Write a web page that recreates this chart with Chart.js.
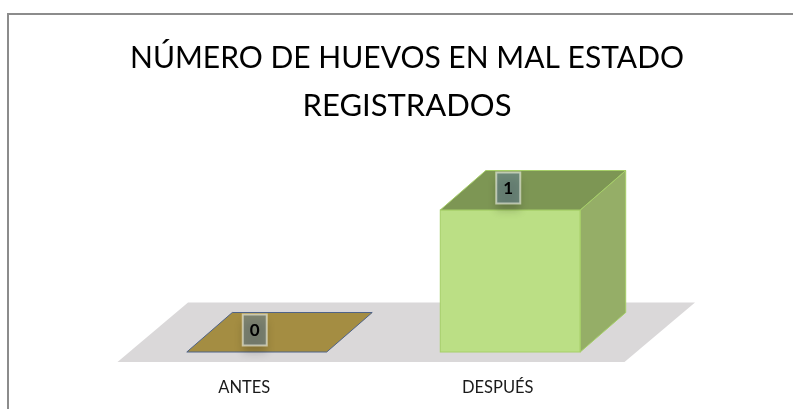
<!DOCTYPE html>
<html>
<head>
<meta charset="utf-8">
<script src="https://cdn.jsdelivr.net/npm/chart.js@4.4.1/dist/chart.umd.min.js"></script>
<style>
  html, body { margin: 0; padding: 0; background: #ffffff; }
  #wrap { position: relative; width: 793px; height: 409px; overflow: hidden; }
  #frame { position: absolute; left: 7px; top: 13px; width: 900px; height: 500px;
           border-top: 2px solid #8c8c8c; border-left: 2px solid #8c8c8c; z-index: 0; }
  #c { position: absolute; left: 0; top: 0; z-index: 1; }
</style>
</head>
<body>
<div id="wrap">
  <div id="frame"></div>
  <canvas id="c" width="793" height="409"></canvas>
</div>
<script>
// ---- data ----
const categories = ['ANTES', 'DESPUÉS'];
const values = [0, 1];
const titleLines = ['NÚMERO DE HUEVOS EN MAL ESTADO', 'REGISTRADOS'];
const frontColors = ['#a48d42', '#bbdf85'];
const topColors = ['#a48d42', '#7d9654'];
const sideColors = ['#8a7636', '#95ae67'];
const edgeColors = ['#4f6388', '#a6cf68'];

// ---- font sizing ----
const FONT = 'Lato';
function fitSize(text, family, target) {
  const ctx = document.createElement('canvas').getContext('2d');
  ctx.font = '100px ' + family;
  return Math.round(2 * 100 * target / ctx.measureText(text).width) / 2;
}
const titleSize = fitSize(titleLines[0], FONT, 572);
const axisSize = 16.5;

const DEPTH = { x: 45.5, y: -39.5 };
const GAP = { x: 12.5, y: 10 };

const threeD = {
  id: 'threeD',
  beforeDatasetsDraw(chart) {
    const { ctx, chartArea } = chart;
    const base = chart.scales.y.getPixelForValue(0);
    const l = chartArea.left, r = chartArea.right;
    ctx.save();
    ctx.fillStyle = '#dad8d9';
    ctx.beginPath();
    ctx.moveTo(l - GAP.x, base + GAP.y);
    ctx.lineTo(r - GAP.x, base + GAP.y);
    ctx.lineTo(r + DEPTH.x + GAP.x, base + DEPTH.y - GAP.y);
    ctx.lineTo(l + DEPTH.x + GAP.x, base + DEPTH.y - GAP.y);
    ctx.closePath();
    ctx.fill();
    ctx.restore();
  },
  afterDatasetsDraw(chart) {
    const { ctx } = chart;
    const meta = chart.getDatasetMeta(0);
    meta.data.forEach((bar, i) => {
      const p = bar.getProps(['x', 'y', 'base', 'width'], true);
      const x0 = p.x - p.width / 2, x1 = p.x + p.width / 2;
      const yt = Math.min(p.y, p.base), yb = Math.max(p.y, p.base);
      ctx.save();
      ctx.lineWidth = 1;
      ctx.strokeStyle = edgeColors[i];
      // side face
      if (yb - yt > 0.5) {
        ctx.fillStyle = sideColors[i];
        ctx.beginPath();
        ctx.moveTo(x1, yt);
        ctx.lineTo(x1 + DEPTH.x, yt + DEPTH.y);
        ctx.lineTo(x1 + DEPTH.x, yb + DEPTH.y);
        ctx.lineTo(x1, yb);
        ctx.closePath();
        ctx.fill();
        ctx.stroke();
        ctx.strokeRect(x0, yt, x1 - x0, yb - yt);
      }
      // top face
      ctx.fillStyle = topColors[i];
      ctx.beginPath();
      ctx.moveTo(x0, yt);
      ctx.lineTo(x1, yt);
      ctx.lineTo(x1 + DEPTH.x, yt + DEPTH.y);
      ctx.lineTo(x0 + DEPTH.x, yt + DEPTH.y);
      ctx.closePath();
      ctx.fill();
      ctx.stroke();
      ctx.restore();

      // data label
      const cx = p.x - 2, cy = yt - 22;
      const bw = 24, bh = 31;
      ctx.save();
      ctx.shadowColor = 'rgba(0,0,0,0.35)';
      ctx.shadowBlur = 8;
      ctx.shadowOffsetY = 7;
      ctx.fillStyle = 'rgba(98,126,150,0.55)';
      ctx.fillRect(cx - bw / 2, cy - bh / 2, bw, bh);
      ctx.restore();
      ctx.save();
      ctx.strokeStyle = 'rgba(255,255,240,0.55)';
      ctx.lineWidth = 2;
      ctx.strokeRect(cx - bw / 2, cy - bh / 2, bw, bh);
      ctx.fillStyle = '#000000';
      ctx.font = 'bold 17px ' + FONT;
      ctx.textAlign = 'center';
      ctx.textBaseline = 'middle';
      ctx.fillText(String(values[i]), cx, cy + 1);
      ctx.restore();
    });
  }
};

new Chart(document.getElementById('c'), {
  type: 'bar',
  data: {
    labels: categories,
    datasets: [{
      data: values,
      backgroundColor: frontColors,
      borderWidth: 0,
      categoryPercentage: 1,
      barPercentage: 0.552
    }]
  },
  options: {
    responsive: false,
    animation: false,
    events: [],
    layout: { padding: { left: 130, right: 109, top: 0, bottom: 0 } },
    plugins: {
      legend: { display: false },
      tooltip: { enabled: false },
      title: {
        display: true,
        text: titleLines,
        color: '#000000',
        font: { family: FONT, size: titleSize, weight: 'normal', lineHeight: 48 / titleSize },
        padding: { top: 34, bottom: 80 }
      }
    },
    scales: {
      x: {
        grid: { display: false, drawTicks: false },
        border: { display: false },
        ticks: { color: '#1a1a1a', font: { family: FONT, size: axisSize }, padding: 26, labelOffset: -12.5 },
        afterFit(s) { s.height = 57; }
      },
      y: {
        position: 'right',
        min: 0, max: 1,
        grid: { display: false, drawTicks: false },
        border: { display: false },
        ticks: { display: false },
        afterFit(s) { s.width = 47; }
      }
    }
  },
  plugins: [threeD]
});
</script>
</body>
</html>
